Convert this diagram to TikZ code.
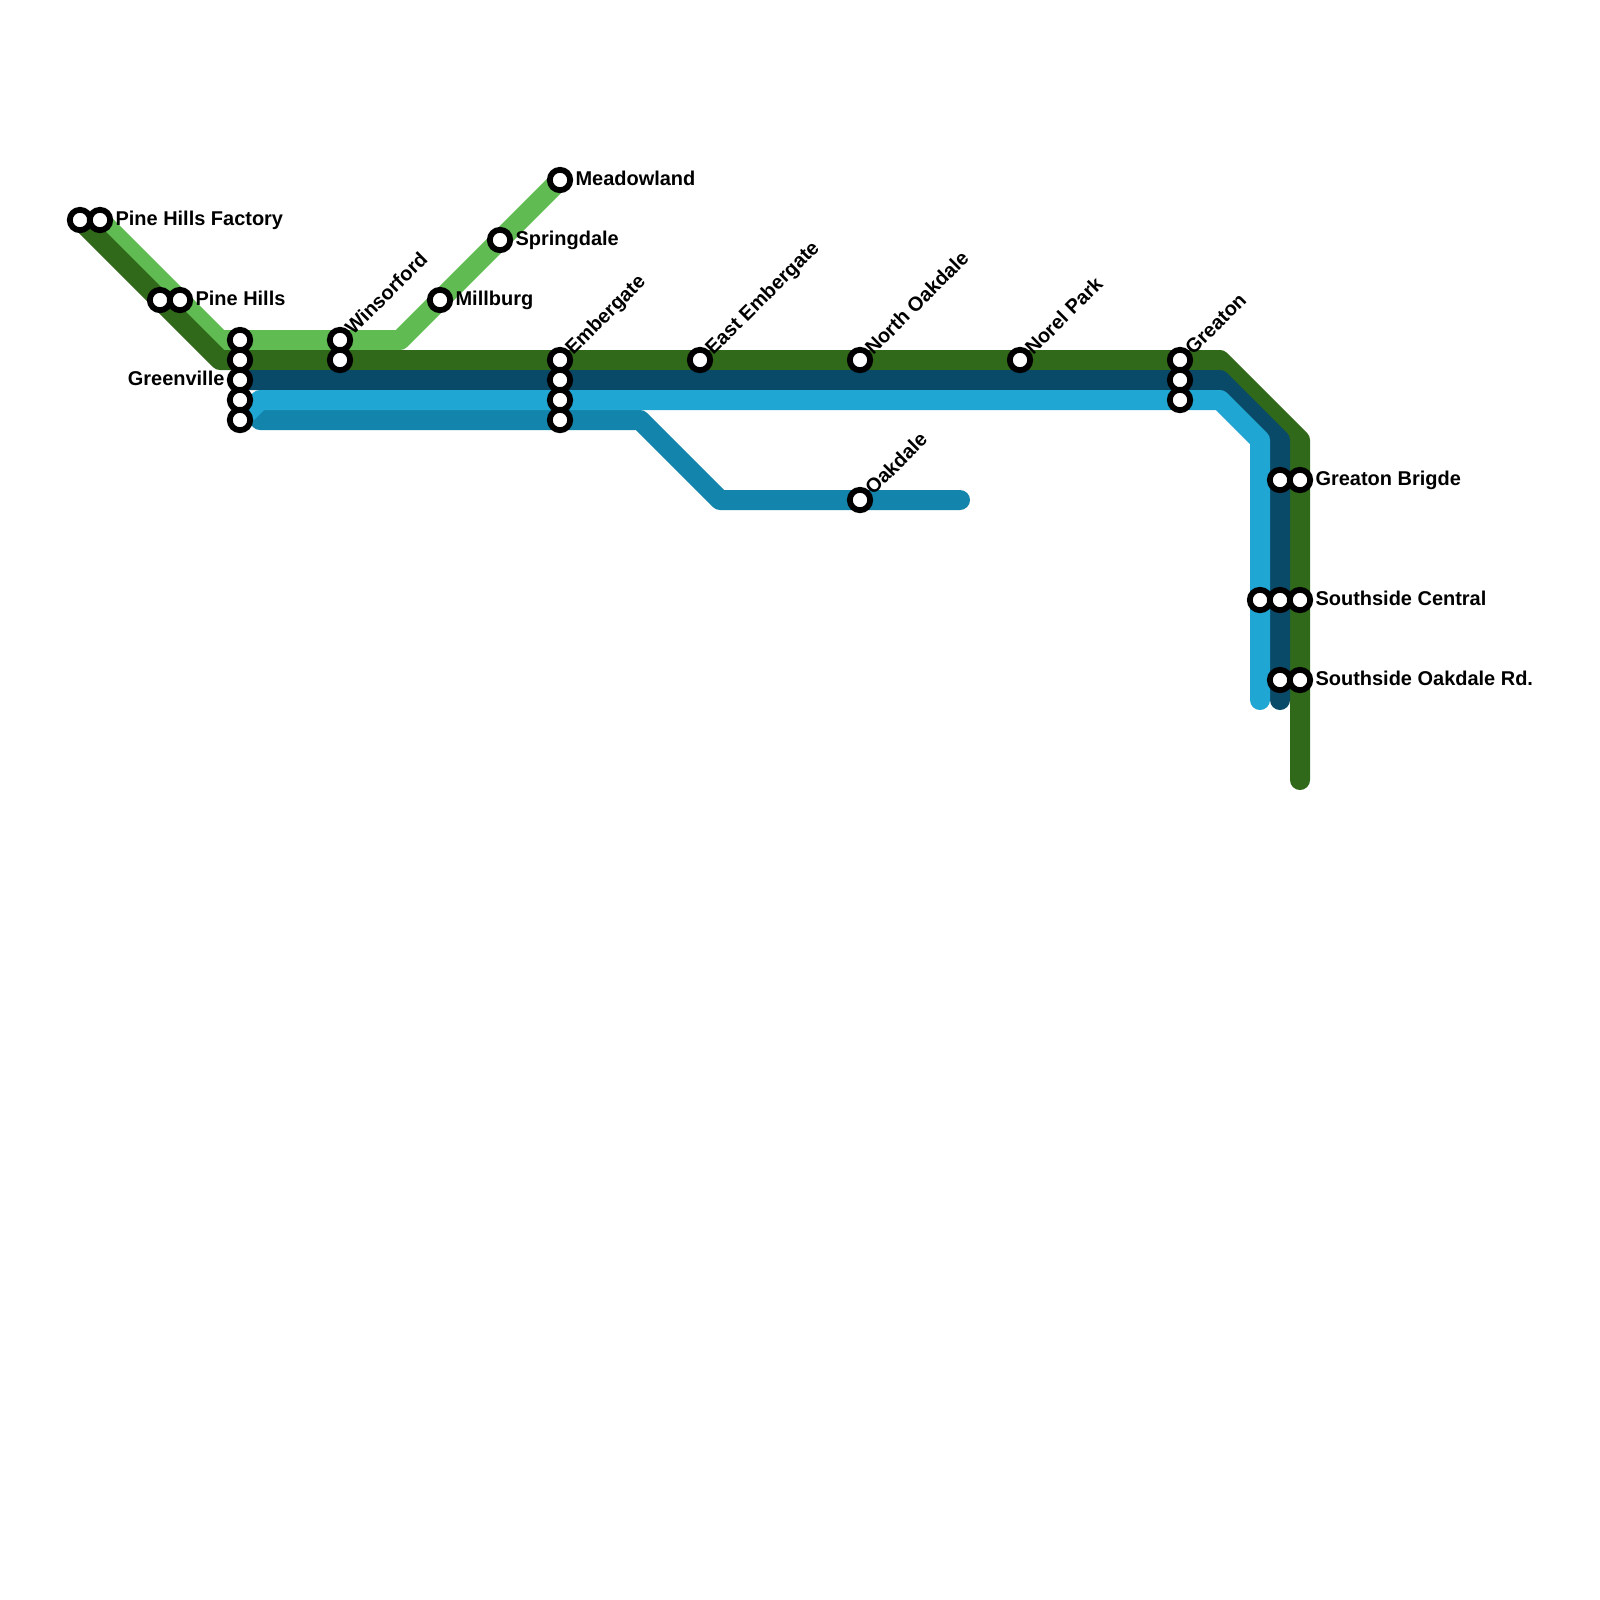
\documentclass[tikz,border=0pt]{standalone}
\usepackage{fontspec}
\setmainfont{Liberation Sans}
\usepackage{xcolor}
\usepackage{tikz}
\usetikzlibrary{positioning,backgrounds}
\definecolor{linelight}{HTML}{5FBB52}
\definecolor{linegreen}{HTML}{306919}
\definecolor{linenavy}{HTML}{0A4A69}
\definecolor{linesky}{HTML}{1FA6D3}
\definecolor{linesea}{HTML}{1385AC}

\begin{document}
\begin{tikzpicture}[
  x=0.5cm, y=-0.5cm,
  stop/.style={circle, draw=black, fill=white, line width=1.45mm, inner sep=0pt, minimum size=5.1mm},
  route/.style={line width=5mm, line join=round, line cap=round},
  lab/.style={font=\bfseries\fontsize{14.2}{16}\selectfont, inner sep=0pt, text height=10.2pt, text depth=0pt},
  rlab/.style={lab, right=0.55mm of #1, yshift=0.3mm},
  dlab/.style={lab, rotate=45, anchor=south west, at={(#1.north east)}, xshift=-0.23mm, yshift=-1.72mm}
]
\useasboundingbox (0,0) rectangle (80,80);
\node[stop] (factoryA) at (4,11) {};
\node[stop] (factoryB) at (5,11) {};
\node[stop] (hillsA) at (8,15) {};
\node[stop] (hillsB) at (9,15) {};
\node[stop] (greenA) at (12,17) {};
\node[stop] (greenB) at (12,18) {};
\node[stop] (greenC) at (12,19) {};
\node[stop] (greenD) at (12,20) {};
\node[stop] (greenE) at (12,21) {};
\node[stop] (winsA) at (17,17) {};
\node[stop] (winsB) at (17,18) {};
\node[stop] (millburg) at (22,15) {};
\node[stop] (springdale) at (25,12) {};
\node[stop] (meadow) at (28,9) {};
\node[stop] (emberA) at (28,18) {};
\node[stop] (emberB) at (28,19) {};
\node[stop] (emberC) at (28,20) {};
\node[stop] (emberD) at (28,21) {};
\node[stop] (eastember) at (35,18) {};
\node[stop] (northoak) at (43,18) {};
\node[stop] (oakdale) at (43,25) {};
\node[stop] (norel) at (51,18) {};
\node[stop] (greatonA) at (59,18) {};
\node[stop] (greatonB) at (59,19) {};
\node[stop] (greatonC) at (59,20) {};
\node[stop] (brigdeA) at (64,24) {};
\node[stop] (brigdeB) at (65,24) {};
\node[stop] (centralA) at (63,30) {};
\node[stop] (centralB) at (64,30) {};
\node[stop] (centralC) at (65,30) {};
\node[stop] (oakrdA) at (64,34) {};
\node[stop] (oakrdB) at (65,34) {};
% line ends and bends
\coordinate (lightbendA) at (11,17);
\coordinate (lightbendB) at (20,17);
\coordinate (greenbendA) at (11,18);
\coordinate (greenbendB) at (61,18);
\coordinate (greenbendC) at (65,22);
\coordinate (greenend) at (65,39);
\coordinate (navybendA) at (61,19);
\coordinate (navybendB) at (64,22);
\coordinate (navyend) at (64,35);
\coordinate (skystart) at (13,20);
\coordinate (skybendA) at (61,20);
\coordinate (skybendB) at (63,22);
\coordinate (skyend) at (63,35);
\coordinate (seastart) at (13,21);
\coordinate (seabendA) at (32,21);
\coordinate (seabendB) at (36,25);
\coordinate (seaend) at (48,25);
\begin{scope}[on background layer]
\draw[route, linelight] (factoryB.center) -- (lightbendA) -- (lightbendB) -- (meadow.center);
\draw[route, linegreen] (factoryA.center) -- (greenbendA) -- (greenbendB) -- (greenbendC) -- (greenend);
\draw[route, linenavy] (greenC.center) -- (navybendA) -- (navybendB) -- (navyend);
\draw[route, linesea] (seastart) -- (seabendA) -- (seabendB) -- (seaend);
\draw[route, linesky] (greenE.center) -- (skystart) -- (skybendA) -- (skybendB) -- (skyend);
\end{scope}
\node[rlab=factoryB] {Pine Hills Factory};
\node[rlab=hillsB] {Pine Hills};
\node[lab, left=0.55mm of greenC, yshift=0.3mm] {Greenville};
\node[rlab=millburg] {Millburg};
\node[rlab=springdale] {Springdale};
\node[rlab=meadow] {Meadowland};
\node[rlab=brigdeB] {Greaton Brigde};
\node[rlab=centralC] {Southside Central};
\node[rlab=oakrdB] {Southside Oakdale Rd.};
\node[dlab=winsA] {Winsorford};
\node[dlab=emberA] {Embergate};
\node[dlab=eastember] {East Embergate};
\node[dlab=northoak] {North Oakdale};
\node[dlab=norel] {Norel Park};
\node[dlab=greatonA] {Greaton};
\node[dlab=oakdale] {Oakdale};
\end{tikzpicture}
\end{document}
